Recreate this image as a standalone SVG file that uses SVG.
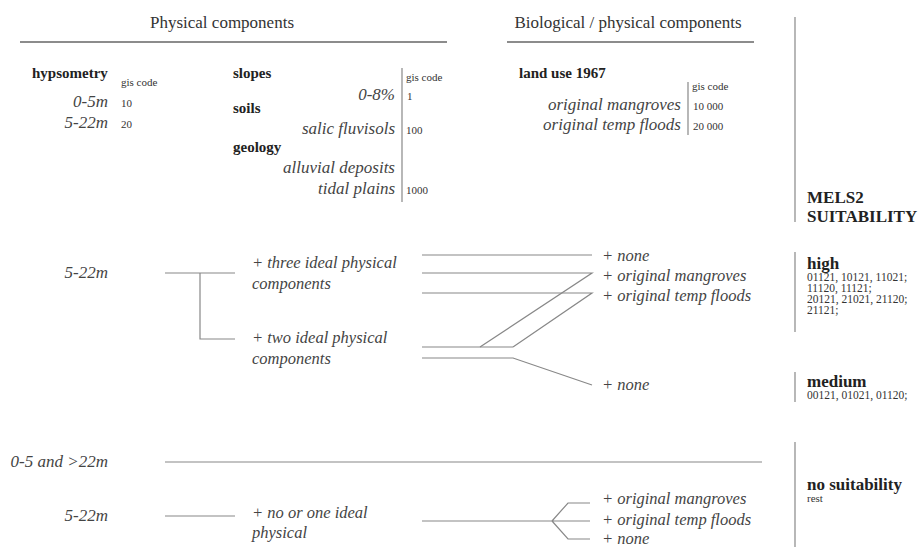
<svg xmlns="http://www.w3.org/2000/svg" width="919" height="547" viewBox="0 0 919 547">
<style>
.h,.b,.bl,.i,.il,.s,.c{font-family:Liberation Serif,Times New Roman,serif;}
.h{font-size:17px;fill:#333;}
.b{font-size:15px;font-weight:bold;fill:#222;}
.bl{font-size:17px;font-weight:bold;fill:#222;}
.i{font-size:17px;font-style:italic;fill:#444;}
.il{font-size:16.5px;font-style:italic;fill:#444;}
.s{font-size:11px;fill:#333;}
.c{font-size:11.5px;fill:#333;}
.e{text-anchor:end;}
.ln{stroke:#888;stroke-width:1.2;fill:none;}
.hd{stroke:#666;stroke-width:1.5;fill:none;}
</style>
<rect width="919" height="547" fill="#fff"/>
<g id="header-physical">
<text class="h" x="222" y="28" text-anchor="middle">Physical components</text>
<line class="hd" x1="20" y1="42" x2="447" y2="42"/>
</g>
<g id="header-biological">
<text class="h" x="628" y="28" text-anchor="middle">Biological / physical components</text>
<line class="hd" x1="507" y1="42" x2="754" y2="42"/>
</g>
<g id="hypsometry">
<text class="b" x="32" y="78">hypsometry</text>
<text class="s" x="121" y="86">gis code</text>
<text class="i e" x="108" y="107">0-5m</text>
<text class="s" x="121" y="107">10</text>
<text class="i e" x="108" y="128">5-22m</text>
<text class="s" x="121" y="128">20</text>
</g>
<g id="slopes-soils-geology">
<line class="ln" x1="402" y1="68" x2="402" y2="202"/>
<text class="b" x="233" y="78">slopes</text>
<text class="s" x="406" y="81">gis code</text>
<text class="i e" x="395" y="100">0-8%</text>
<text class="s" x="407" y="100">1</text>
<text class="b" x="233" y="113">soils</text>
<text class="i e" x="395" y="134">salic fluvisols</text>
<text class="s" x="406" y="134">100</text>
<text class="b" x="233" y="152">geology</text>
<text class="i e" x="395" y="173">alluvial deposits</text>
<text class="i e" x="395" y="194">tidal plains</text>
<text class="s" x="406" y="194">1000</text>
</g>
<g id="landuse">
<line class="ln" x1="688" y1="82" x2="688" y2="135"/>
<text class="b" x="519" y="78">land use 1967</text>
<text class="s" x="692" y="90">gis code</text>
<text class="i e" x="681" y="110">original mangroves</text>
<text class="s" x="693" y="110">10 000</text>
<text class="i e" x="681" y="130">original temp floods</text>
<text class="s" x="693" y="130">20 000</text>
</g>
<g id="suitability-title">
<line class="ln" x1="795" y1="17" x2="795" y2="222"/>
<text class="bl" x="807" y="203">MELS2</text>
<text class="bl" x="807" y="222">SUITABILITY</text>
</g>
<g id="high">
<line class="ln" x1="795" y1="252" x2="795" y2="332"/>
<text class="bl" x="807" y="269">high</text>
<text class="c" x="807" y="281">01121, 10121, 11021;</text>
<text class="c" x="807" y="292">11120, 11121;</text>
<text class="c" x="807" y="303">20121, 21021, 21120;</text>
<text class="c" x="807" y="314">21121;</text>
</g>
<g id="medium">
<line class="ln" x1="795" y1="372" x2="795" y2="402"/>
<text class="bl" x="807" y="387">medium</text>
<text class="c" x="807" y="399">00121, 01021, 01120;</text>
</g>
<g id="nosuitability">
<line class="ln" x1="795" y1="442" x2="795" y2="547"/>
<text class="bl" x="807" y="490">no suitability</text>
<text class="s" x="807" y="502">rest</text>
</g>
<g id="n-5-22-a"><text class="i e" x="108" y="278">5-22m</text></g>
<g id="n-three"><text class="il" x="252" y="268">+ three ideal physical</text><text class="il" x="252" y="289">components</text></g>
<g id="n-two"><text class="il" x="252" y="343">+ two ideal physical</text><text class="il" x="252" y="364">components</text></g>
<g id="n-none1"><text class="il" x="602" y="261">+ none</text></g>
<g id="n-mang1"><text class="il" x="602" y="281">+ original mangroves</text></g>
<g id="n-flood1"><text class="il" x="602" y="301">+ original temp floods</text></g>
<g id="n-none2"><text class="il" x="602" y="390">+ none</text></g>
<g id="n-0-5"><text class="i e" x="108" y="467">0-5 and &gt;22m</text></g>
<g id="n-5-22-b"><text class="i e" x="108" y="521">5-22m</text></g>
<g id="n-noone"><text class="il" x="252" y="518">+ no or one ideal</text><text class="il" x="252" y="538">physical</text></g>
<g id="n-mang2"><text class="il" x="602" y="504">+ original mangroves</text></g>
<g id="n-flood2"><text class="il" x="602" y="525">+ original temp floods</text></g>
<g id="n-none3"><text class="il" x="602" y="544">+ none</text></g>
<g id="connectors">
<path class="ln" d="M165 273H235M200 273V339H235"/>
<path class="ln" d="M422 255H592"/>
<path class="ln" d="M422 273H592L480 347"/>
<path class="ln" d="M422 293H592L513 347"/>
<path class="ln" d="M422 347H513"/>
<path class="ln" d="M422 358H513L592 385"/>
<path class="ln" d="M165 462H762"/>
<path class="ln" d="M165 516H235"/>
<path class="ln" d="M422 521H590M552 521L568 503H590M552 521L568 539H590"/>
</g>
</svg>
